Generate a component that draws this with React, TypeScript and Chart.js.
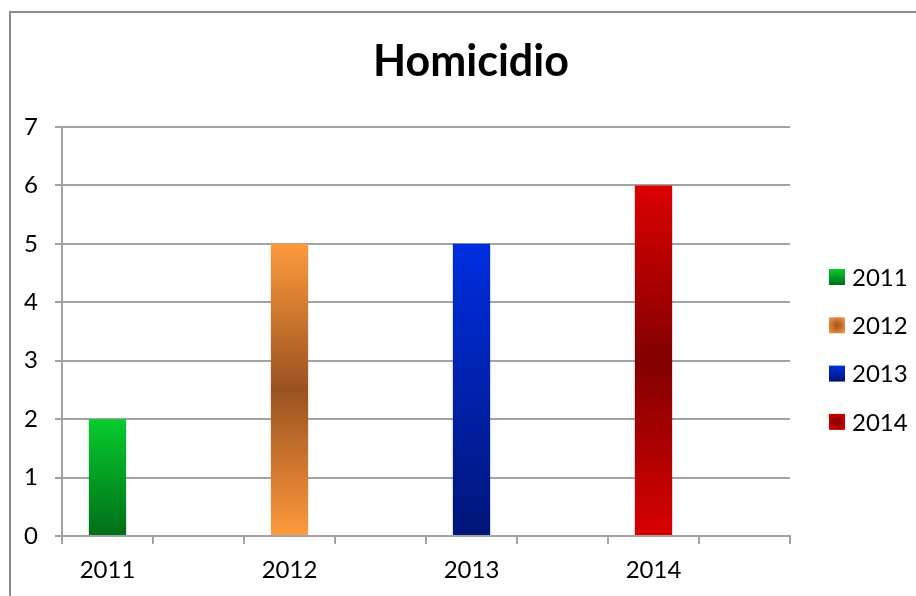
import React, { useEffect, useRef } from "react";
import { Chart, registerables } from "chart.js";

Chart.register(...registerables);

const TITLE = "Homicidio";
const years = ["2011", "2012", "2013", "2014"];
const values = [2, 5, 5, 6];
const yTicks = [0, 1, 2, 3, 4, 5, 6, 7];

// gradient stops per series: [offset, color]
const seriesStops: [number, string][][] = [
  [[0, "#07cc2d"], [1, "#006e19"]],
  [[0, "#fd9a3d"], [0.5, "#9b5221"], [1, "#fd9a3d"]],
  [[0, "#002ee0"], [1, "#001577"]],
  [[0, "#dc0000"], [0.5, "#820000"], [1, "#d80000"]],
];
const radialLegend = [false, true, false, true];

const FONT = "Lato, 'Open Sans', sans-serif";

export default function App() {
  const ref = useRef<HTMLCanvasElement | null>(null);

  useEffect(() => {
    const canvas = ref.current;
    if (!canvas) return;

    const labels: string[] = [];
    years.forEach((y) => {
      labels.push(y);
      labels.push("");
    });

    const datasets = years.map((yr, i) => ({
      label: yr,
      data: labels.map((_, k) => (k === i * 2 ? values[i] : null)),
      barPercentage: 0.41,
      categoryPercentage: 1,
      backgroundColor: (ctx: any) => {
        const chart = ctx.chart;
        const raw = ctx.raw;
        if (!chart.chartArea || raw == null) return seriesStops[i][0][1];
        const ys = chart.scales.y;
        const top = ys.getPixelForValue(raw);
        const base = ys.getPixelForValue(0);
        const g = chart.ctx.createLinearGradient(0, top, 0, base);
        seriesStops[i].forEach(([o, c]) => g.addColorStop(o, c));
        return g;
      },
      borderWidth: 0,
    }));

    const decor = {
      id: "decor",
      beforeDraw(chart: any) {
        const c = chart.ctx;
        c.save();
        c.fillStyle = "#ffffff";
        c.fillRect(0, 0, chart.width, chart.height);
        c.fillStyle = "#8c8c8c";
        c.fillRect(9, 11, 2, chart.height - 11);
        c.fillRect(9, 11, chart.width - 9, 2);
        c.restore();
      },
      afterDraw(chart: any) {
        const c = chart.ctx;
        const area = chart.chartArea;
        c.save();
        // title
        c.fillStyle = "#000";
        c.font = `bold 43px ${FONT}`;
        c.textAlign = "center";
        c.textBaseline = "middle";
        c.fillText(TITLE, 471, 62);
        // legend
        c.font = `24px ${FONT}`;
        c.textAlign = "left";
        years.forEach((yr, i) => {
          const cy = area.top + 150 + 48.3 * i;
          const x = area.right + 39;
          const y = cy - 8;
          let g: CanvasGradient;
          if (radialLegend[i]) {
            g = c.createRadialGradient(x + 8, cy, 0, x + 8, cy, 11);
            g.addColorStop(0, seriesStops[i][1][1]);
            g.addColorStop(1, seriesStops[i][0][1]);
          } else {
            g = c.createLinearGradient(0, y, 0, y + 16);
            g.addColorStop(0, seriesStops[i][0][1]);
            g.addColorStop(1, seriesStops[i][seriesStops[i].length - 1][1]);
          }
          c.fillStyle = g;
          c.fillRect(x, y, 16, 16);
          c.fillStyle = "#000";
          c.textBaseline = "middle";
          c.fillText(yr, x + 23, cy + 1);
        });
        c.restore();
      },
    };

    const gridColor = "#a3a3a3";

    const chart = new Chart(canvas, {
      type: "bar",
      data: { labels, datasets: datasets as any },
      plugins: [decor],
      options: {
        responsive: false,
        animation: false,
        layout: { padding: { top: 127, right: 126, left: 0, bottom: 0 } },
        plugins: {
          legend: { display: false },
          title: { display: false },
          tooltip: { enabled: false },
        },
        scales: {
          x: {
            stacked: true,
            offset: true,
            grid: {
              offset: true,
              drawOnChartArea: false,
              drawTicks: true,
              tickLength: 8,
              color: gridColor,
              lineWidth: 2,
            },
            border: { color: gridColor, width: 2 },
            ticks: {
              autoSkip: false,
              maxRotation: 0,
              color: "#000",
              font: { family: FONT, size: 24 },
              padding: 12,
            },
            afterFit: (s: any) => {
              s.height = 60;
            },
          },
          y: {
            stacked: true,
            min: 0,
            max: 7,
            afterBuildTicks: (s: any) => {
              s.ticks = yTicks.map((v) => ({ value: v }));
            },
            grid: {
              color: gridColor,
              lineWidth: 2,
              tickLength: 7,
            },
            border: { color: gridColor, width: 2 },
            ticks: {
              color: "#000",
              font: { family: FONT, size: 24 },
              padding: 17,
            },
            afterFit: (s: any) => {
              s.width = 62;
            },
          },
        },
      },
    });

    return () => chart.destroy();
  }, []);

  return (
    <div style={{ position: "fixed", left: 0, top: 0, width: 916, height: 596 }}>
      <canvas ref={ref} width={916} height={596} style={{ display: "block" }} />
    </div>
  );
}
